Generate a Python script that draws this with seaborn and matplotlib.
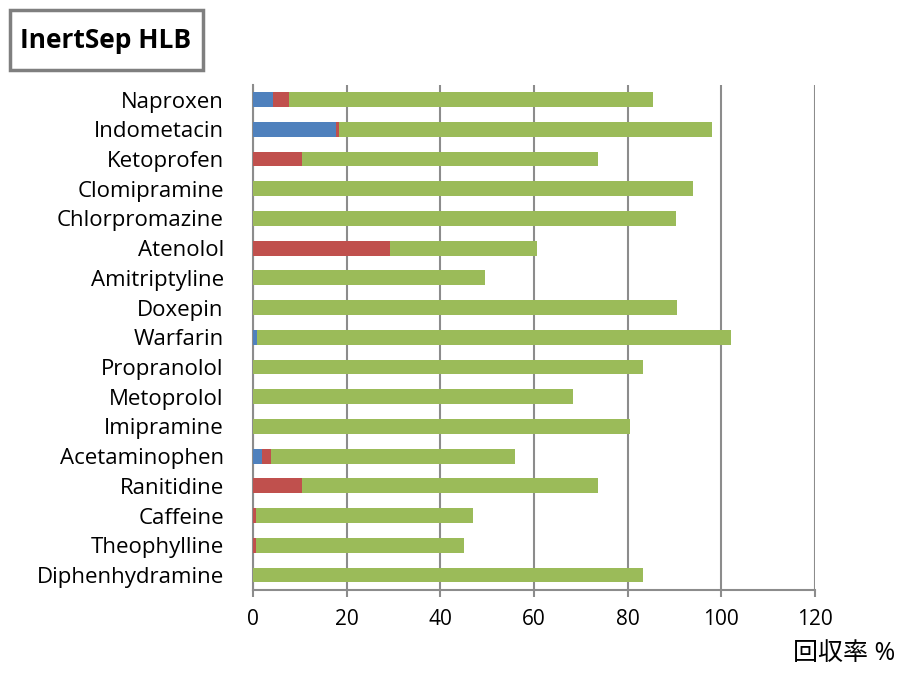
import matplotlib.pyplot as plt
import numpy as np
import pandas as pd
import seaborn as sns
from matplotlib.patches import Rectangle

drugs = ['Naproxen', 'Indometacin', 'Ketoprofen', 'Clomipramine', 'Chlorpromazine',
         'Atenolol', 'Amitriptyline', 'Doxepin', 'Warfarin', 'Propranolol',
         'Metoprolol', 'Imipramine', 'Acetaminophen', 'Ranitidine', 'Caffeine',
         'Theophylline', 'Diphenhydramine']
blue = [4.3, 17.7, 0, 0, 0, 0, 0, 0, 0.8, 0, 0, 0, 1.9, 0, 0, 0, 0]
red = [3.3, 0.7, 10.5, 0, 0, 29.3, 0, 0, 0, 0, 0, 0, 1.9, 10.5, 0.6, 0.6, 0]
green = [77.7, 79.5, 63.2, 94.0, 90.4, 31.4, 49.6, 90.6, 101.3, 83.3,
         68.4, 80.6, 52.2, 63.2, 46.4, 44.5, 83.3]

df = pd.DataFrame({'drug': drugs, 'blue': blue, 'red': red, 'green': green})
df['c_blue'] = df['blue']
df['c_red'] = df['blue'] + df['red']
df['c_green'] = df['c_red'] + df['green']

sns.set_style('white')
plt.rcParams['font.family'] = ['Open Sans', 'Noto Sans CJK JP', 'DejaVu Sans']
plt.rcParams['text.color'] = 'black'

fig = plt.figure(figsize=(8.99, 6.78), dpi=100)
ax = fig.add_axes([0.2814, 0.130, 0.6252, 0.745])

w = 0.5
sns.barplot(data=df, y='drug', x='c_green', color='#9BBB59', orient='h',
            width=w, saturation=1, linewidth=0, ax=ax, zorder=3)
sns.barplot(data=df, y='drug', x='c_red', color='#C0504D', orient='h',
            width=w, saturation=1, linewidth=0, ax=ax, zorder=4)
sns.barplot(data=df, y='drug', x='c_blue', color='#4F81BD', orient='h',
            width=w, saturation=1, linewidth=0, ax=ax, zorder=5)

ax.set_xlim(0, 120)
ax.set_ylim(len(drugs) - 0.5, -0.5)
ax.set_xticks(np.arange(0, 121, 20))
ax.xaxis.grid(True, color='#8C8C8C', linewidth=1.5, zorder=0)
ax.yaxis.grid(False)
ax.set_xlabel('')
ax.set_ylabel('')
for s in ['top', 'right']:
    ax.spines[s].set_visible(False)
ax.spines['left'].set_color('#8C8C8C')
ax.spines['left'].set_linewidth(1.5)
ax.spines['bottom'].set_color('#8C8C8C')
ax.spines['bottom'].set_linewidth(1.5)
ax.tick_params(axis='x', length=5, width=1.5, color='#8C8C8C', labelsize=15,
               labelcolor='black', pad=9, bottom=True)
ax.tick_params(axis='y', length=0, labelsize=16, labelcolor='black', pad=21)
ax.set_axisbelow(True)

# title box
fig.patches.append(Rectangle((10 / 899, 1 - 70 / 678), 193 / 899, 60 / 678,
                             transform=fig.transFigure, facecolor='white',
                             edgecolor='#7F7F7F', linewidth=2.5))
fig.text(106 / 899, 1 - 40 / 678, 'InertSep HLB', fontsize=19, fontweight='bold',
         ha='center', va='center')
fig.text(0.996, 0.018, '回収率 %', fontsize=18, ha='right', va='bottom')

plt.savefig('out.png', dpi=100)
